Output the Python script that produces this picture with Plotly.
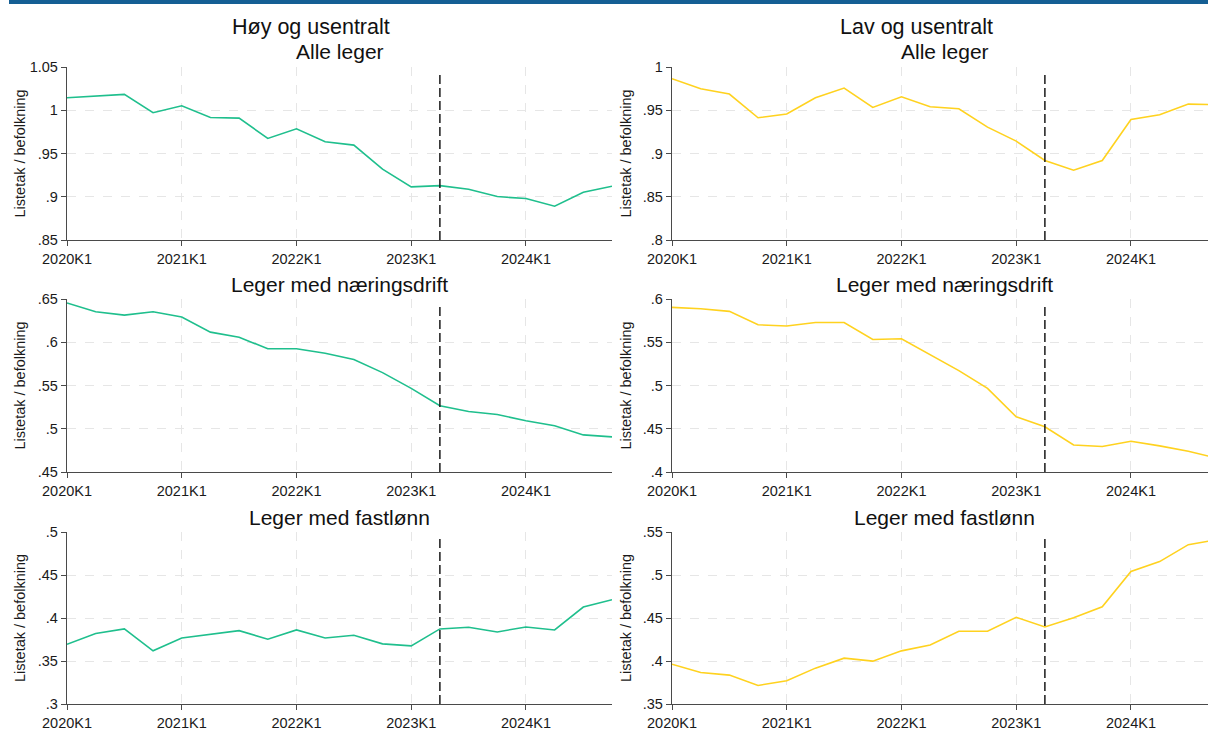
import plotly.graph_objects as go

# ---------------- data ----------------
quarters = ["2020K1", "2020K2", "2020K3", "2020K4",
            "2021K1", "2021K2", "2021K3", "2021K4",
            "2022K1", "2022K2", "2022K3", "2022K4",
            "2023K1", "2023K2", "2023K3", "2023K4",
            "2024K1", "2024K2", "2024K3", "2024K4"]
x_tick_labels = ["2020K1", "2021K1", "2022K1", "2023K1", "2024K1"]
reform_quarter = "2023K2"

hoy_alle = [1.0145, 1.0165, 1.0183, 0.9971, 1.0052, 0.9917, 0.9909, 0.9674, 0.9786, 0.9635,
            0.9597, 0.9319, 0.9114, 0.9129, 0.9087, 0.9002, 0.8979, 0.8890, 0.9052, 0.9122]
hoy_naering = [0.6454, 0.6353, 0.6314, 0.6353, 0.6291, 0.6117, 0.6059, 0.5924, 0.5924, 0.5873,
               0.5800, 0.5649, 0.5467, 0.5266, 0.5200, 0.5165, 0.5092, 0.5034, 0.4929, 0.4906]
hoy_fast = [0.3695, 0.3819, 0.3873, 0.3618, 0.3768, 0.3807, 0.3853, 0.3753, 0.3861, 0.3768,
            0.3799, 0.3699, 0.3676, 0.3873, 0.3892, 0.3838, 0.3896, 0.3861, 0.4127, 0.4212]
lav_alle = [0.9865, 0.9749, 0.9687, 0.9413, 0.9456, 0.9645, 0.9757, 0.9533, 0.9656, 0.9541,
            0.9517, 0.9305, 0.9143, 0.8919, 0.8807, 0.8919, 0.9394, 0.9448, 0.9571, 0.9564]
lav_naering = [0.5903, 0.5888, 0.5857, 0.5702, 0.5687, 0.5729, 0.5729, 0.5532, 0.5540, 0.5354,
               0.5172, 0.4967, 0.4638, 0.4522, 0.4313, 0.4294, 0.4356, 0.4302, 0.4240, 0.4160]
lav_fast = [0.3963, 0.3867, 0.3836, 0.3716, 0.3770, 0.3917, 0.4033, 0.3998, 0.4118, 0.4187,
            0.4346, 0.4346, 0.4508, 0.4396, 0.4504, 0.4631, 0.5041, 0.5156, 0.5353, 0.5410]

yt_hoy_alle = [0.85, 0.90, 0.95, 1.00, 1.05]
yl_hoy_alle = [".85", ".9", ".95", "1", "1.05"]
yt_hoy_naering = [0.45, 0.50, 0.55, 0.60, 0.65]
yl_hoy_naering = [".45", ".5", ".55", ".6", ".65"]
yt_hoy_fast = [0.30, 0.35, 0.40, 0.45, 0.50]
yl_hoy_fast = [".3", ".35", ".4", ".45", ".5"]
yt_lav_alle = [0.80, 0.85, 0.90, 0.95, 1.00]
yl_lav_alle = [".8", ".85", ".9", ".95", "1"]
yt_lav_naering = [0.40, 0.45, 0.50, 0.55, 0.60]
yl_lav_naering = [".4", ".45", ".5", ".55", ".6"]
yt_lav_fast = [0.35, 0.40, 0.45, 0.50, 0.55]
yl_lav_fast = [".35", ".4", ".45", ".5", ".55"]

col_titles = ["Høy og usentralt", "Lav og usentralt"]
row_titles = ["Alle leger", "Leger med næringsdrift", "Leger med fastlønn"]
y_title = "Listetak / befolkning"

GREEN = "#1fbf8d"
YELLOW = "#ffd21f"

# ---------------- layout geometry ----------------
W, H = 1208, 740
FONT = "Liberation Sans, Arial, sans-serif"
x_dom = [[67 / W, 612 / W], [672 / W, 1.0]]
x_rng = [[0, 19], [0, 19 * (W - 672) / 545]]
y_px = [(67, 240), (299, 472), (532, 704)]
y_dom = [[1 - b / H, 1 - t / H] for t, b in y_px]

panels = [
    (0, 0, hoy_alle, yt_hoy_alle, yl_hoy_alle, GREEN),
    (1, 0, hoy_naering, yt_hoy_naering, yl_hoy_naering, GREEN),
    (2, 0, hoy_fast, yt_hoy_fast, yl_hoy_fast, GREEN),
    (0, 1, lav_alle, yt_lav_alle, yl_lav_alle, YELLOW),
    (1, 1, lav_naering, yt_lav_naering, yl_lav_naering, YELLOW),
    (2, 1, lav_fast, yt_lav_fast, yl_lav_fast, YELLOW),
]

fig = go.Figure()
layout = dict(
    width=W, height=H,
    margin=dict(l=0, r=0, t=0, b=0),
    paper_bgcolor="white", plot_bgcolor="white",
    showlegend=False,
    font=dict(family=FONT, color="#1a1a1a"),
)
shapes = []
annotations = []
axis_line = "#4a4a4a"
grid_col = "#e6e6e6"
TICK_SIZE = 14.5

reform_idx = quarters.index(reform_quarter)

for k, (r, c, vals, yt, yl, colr) in enumerate(panels, start=1):
    xa = "x" if k == 1 else f"x{k}"
    ya = "y" if k == 1 else f"y{k}"
    fig.add_trace(go.Scatter(
        x=quarters, y=vals, mode="lines",
        line=dict(color=colr, width=1.6),
        xaxis=xa, yaxis=ya, hoverinfo="x+y", cliponaxis=True,
    ))
    layout["xaxis" if k == 1 else f"xaxis{k}"] = dict(
        domain=x_dom[c], anchor=ya, type="category",
        categoryorder="array", categoryarray=quarters,
        range=x_rng[c], tickmode="array", tickvals=x_tick_labels,
        ticktext=x_tick_labels,
        ticks="outside", ticklen=5, tickwidth=1.2, tickcolor=axis_line,
        showline=True, linecolor=axis_line, linewidth=1.3,
        showgrid=True, gridcolor=grid_col, griddash="dash", gridwidth=1,
        zeroline=False, automargin=False, fixedrange=True,
        tickfont=dict(size=TICK_SIZE, family=FONT, color="#1a1a1a"),
    )
    layout["yaxis" if k == 1 else f"yaxis{k}"] = dict(
        domain=y_dom[r], anchor=xa,
        range=[yt[0], yt[-1]], tickmode="array", tickvals=yt, ticktext=yl,
        ticks="outside", ticklen=5, tickwidth=1.2, tickcolor=axis_line,
        showline=True, linecolor=axis_line, linewidth=1.3,
        showgrid=True, gridcolor=grid_col, griddash="dash", gridwidth=1,
        zeroline=False, automargin=False, fixedrange=True,
        tickfont=dict(size=TICK_SIZE, family=FONT, color="#1a1a1a"),
    )
    # reform line
    shapes.append(dict(
        type="line", xref=xa, yref=f"{ya} domain",
        x0=reform_idx, x1=reform_idx, y0=0, y1=0.965,
        line=dict(color="#1a1a1a", width=1.5, dash="9px,4px"),
        layer="above",
    ))
    # panel title
    xc = (x_dom[c][0] + (x_dom[c][0] + 545 / W)) / 2
    ty = {0: 52, 1: 285, 2: 517}[r]
    annotations.append(dict(
        text=row_titles[r], xref="paper", yref="paper",
        x=xc, y=1 - ty / H, xanchor="center", yanchor="middle",
        showarrow=False, font=dict(size=21, family=FONT, color="#111"),
    ))
    # y axis title
    yc = 1 - ((y_px[r][0] + y_px[r][1]) / 2) / H
    annotations.append(dict(
        text=y_title, xref="paper", yref="paper",
        x=(20 if c == 0 else 626) / W, y=yc, xanchor="center", yanchor="middle",
        textangle=-90, showarrow=False,
        font=dict(size=14.5, family=FONT, color="#1a1a1a"),
    ))

# column titles
for c, t in enumerate(col_titles):
    annotations.append(dict(
        text=t, xref="paper", yref="paper",
        x=(311 if c == 0 else 916) / W, y=1 - 27 / H,
        xanchor="center", yanchor="middle", showarrow=False,
        font=dict(size=21.5, family=FONT, color="#111"),
    ))

# top blue bar
shapes.append(dict(
    type="rect", xref="paper", yref="paper",
    x0=9 / W, x1=1.0, y0=1 - 4 / H, y1=1.0,
    fillcolor="#155f94", line=dict(width=0), layer="above",
))

layout["shapes"] = shapes
layout["annotations"] = annotations
fig.update_layout(**layout)

fig.write_html("out.html",
               config={"displayModeBar": False},
               post_script="document.body.style.margin='0px';document.body.style.overflow='hidden';")
